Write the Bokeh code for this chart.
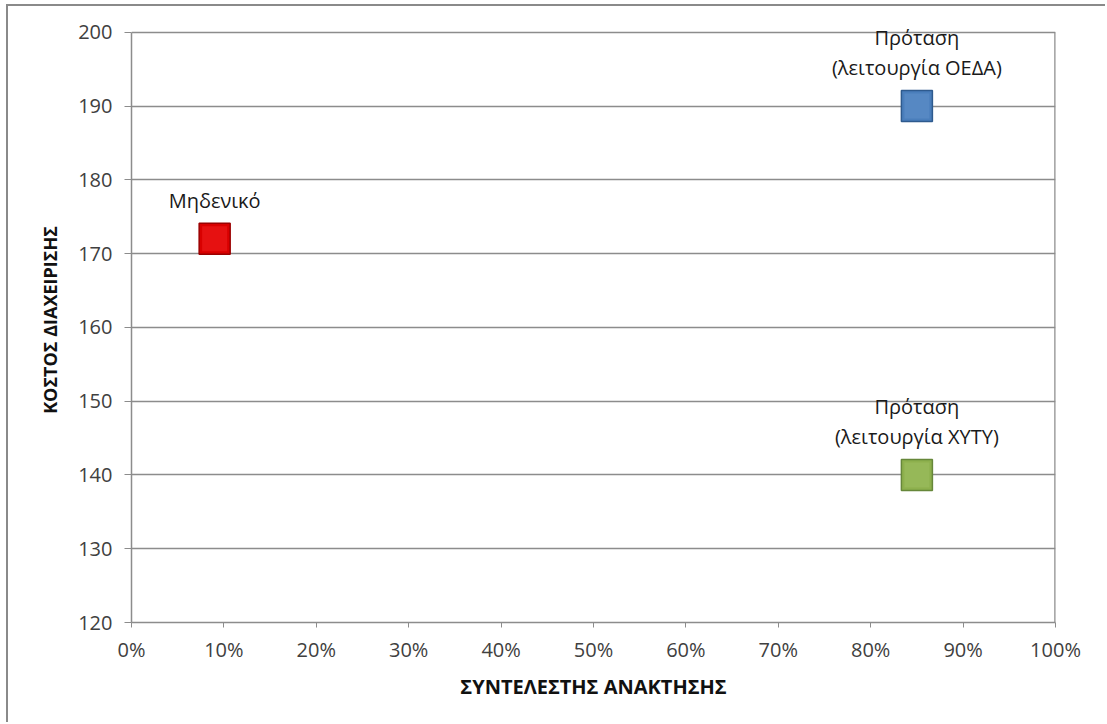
from bokeh.plotting import figure
from bokeh.models import ColumnDataSource, FixedTicker, NumeralTickFormatter
from bokeh.core.properties import value
from bokeh.embed import file_html
from bokeh.resources import INLINE

# Scenarios: recovery rate (fraction) vs management cost
labels = ["Μηδενικό", "Πρόταση\n(λειτουργία ΟΕΔΑ)", "Πρόταση\n(λειτουργία ΧΥΤΥ)"]
recovery = [0.09, 0.85, 0.85]
cost = [172, 190, 140]
fill_colors = ["#D90000", "#4A7EBB", "#8DB04D"]
edge_colors = ["#9A0000", "#2E5A8E", "#66873A"]
glow_colors = ["#FF3030", "#6E9BD4", "#A8C96C"]

x_ticks = [i / 10 for i in range(11)]
y_ticks = list(range(120, 201, 10))
y_min, y_max = 120, 200
y_headroom = 2  # room above the top gridline so the labels are not clipped

FONT = "Open Sans"
GRID = "#8C8C8C"
TEXT = "#404040"

src = ColumnDataSource(dict(x=recovery, y=cost, label=labels,
                            fill=fill_colors, edge=edge_colors, glow=glow_colors))

p = figure(width=1099, height=718, output_backend="svg", toolbar_location=None,
           x_range=(0, 1), y_range=(y_min, y_max + y_headroom),
           min_border_left=123, min_border_right=52,
           min_border_top=11, min_border_bottom=102,
           background_fill_color="white", border_fill_color="white",
           margin=(4, 0, 0, 6),
           styles={"border-top": "2px solid #8A8A8A",
                   "border-left": "2px solid #8A8A8A"})

p.outline_line_color = None

# axes
p.xaxis.ticker = FixedTicker(ticks=x_ticks)
p.xaxis.formatter = NumeralTickFormatter(format="0%")
p.yaxis.ticker = FixedTicker(ticks=y_ticks)
p.yaxis.bounds = (y_min, y_max)
for ax in (p.xaxis, p.yaxis):
    ax.axis_line_color = GRID
    ax.axis_line_width = 1.5
    ax.major_tick_line_color = GRID
    ax.minor_tick_line_color = None
    ax.major_tick_in = 0
    ax.major_label_text_font = FONT
    ax.major_label_text_font_size = "20px"
    ax.major_label_text_color = TEXT
    ax.axis_label_text_font = FONT
    ax.axis_label_text_font_style = "bold"
    ax.axis_label_text_color = "#111111"

p.yaxis.major_tick_out = 7
p.yaxis.major_label_standoff = 12
p.xaxis.major_tick_out = 5
p.xaxis.major_label_standoff = 8

p.yaxis.axis_label = "ΚΟΣΤΟΣ ΔΙΑΧΕΙΡΙΣΗΣ"
p.yaxis.axis_label_text_font_size = "18px"
p.yaxis.axis_label_standoff = 13
p.xaxis.axis_label = "ΣΥΝΤΕΛΕΣΤΗΣ ΑΝΑΚΤΗΣΗΣ"
p.xaxis.axis_label_text_font_size = "20px"
p.xaxis.axis_label_standoff = 7

p.xgrid.grid_line_color = None
p.ygrid.grid_line_color = GRID
p.ygrid.grid_line_width = 1.5

# right edge of the plot area
p.segment(x0=[1], y0=[y_min], x1=[1], y1=[y_max], line_color=GRID, line_width=2.5)

# markers: base square with a lighter inner face for a bevelled look
p.scatter("x", "y", source=src, marker="square", size=31,
          fill_color="fill", line_color="edge", line_width=1.5)
p.scatter("x", "y", source=src, marker="square", size=25,
          fill_color="glow", fill_alpha=0.35, line_color=None)

# point labels above the markers
p.text("x", "y", text="label", source=src, y_offset=-25,
       text_align="center", text_baseline="bottom",
       text_font=value(FONT), text_font_size="20px",
       text_color="#1A1A1A", text_line_height=1.1)

open("out.html", "w").write(file_html(p, INLINE))
